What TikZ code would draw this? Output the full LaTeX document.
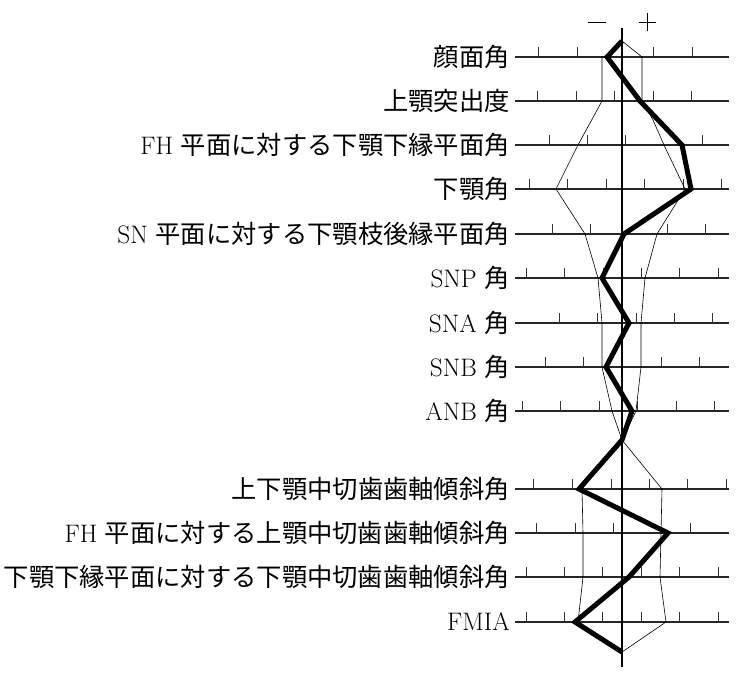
\documentclass[tikz,border=0pt]{standalone}
\usepackage{fontspec}
\newfontfamily\jp{Noto Sans CJK JP}
\begin{document}
\begin{tikzpicture}[x=1pt,y=-1pt,
  grid/.style={line width=1.5pt,black!85},
  tick/.style={line width=0.9pt,black!80},
  thin/.style={line width=0.6pt},
  bold/.style={line width=5pt,line join=miter},
  lab/.style={anchor=east,inner sep=0pt,font=\fontsize{25.3}{28}\selectfont}]
\useasboundingbox (0,0) rectangle (742,680);
\def\rowline#1#2#3{%
  \draw[grid] (515,#1) -- (729,#1);
  \foreach \t in {#2} \draw[tick] (\t,#1-10) -- (\t,#1);
  \node[lab] at (510,#1) {#3};}
\rowline{57}{538,577,653,692}{\jp 顔面角}
\rowline{101}{537,576,614,653,691}{\jp 上顎突出度}
\rowline{145}{549,587,625,702}{FH {\jp 平面に対する下顎下縁平面角}}
\rowline{189}{529,567,606,644,683,721}{\jp 下顎角}
\rowline{234}{552,590,667,705}{SN {\jp 平面に対する下顎枝後縁平面角}}
\rowline{278}{526,564,603,641,679,718}{SNP {\jp 角}}
\rowline{323}{559,597,636,674,712}{SNA {\jp 角}}
\rowline{367}{545,583,661,699}{SNB {\jp 角}}
\rowline{411}{522,560,599,637,676,714}{ANB {\jp 角}}
\rowline{489}{533,572,611,649,687,726}{\jp 上下顎中切歯歯軸傾斜角}
\rowline{533}{536,575,613,690}{FH {\jp 平面に対する上顎中切歯歯軸傾斜角}}
\rowline{577}{526,564,602,641,679,718}{\jp 下顎下縁平面に対する下顎中切歯歯軸傾斜角}
\rowline{622}{526,564,602,641,679,718}{FMIA}
\draw[line width=1.2pt] (622,28) -- (622,667);
\draw[line width=1pt] (588,22) -- (606,22);
\draw[line width=1pt] (639,22) -- (656,22) (647.5,13) -- (647.5,31);
\draw[thin] (622,41) -- (642,57) -- (642,101) -- (653,120) -- (664,145) -- (685,189) -- (657,234) -- (645,278) -- (641,323) -- (641,367) -- (636,411) -- (622,440) -- (662,489) -- (661,533) -- (660,577) -- (666,622) -- (622,652);
\draw[thin] (607,57) -- (602,57) -- (602,101) -- (578,145) -- (556,189) -- (585,234) -- (598,278) -- (602,323) -- (602,367) -- (612,411) -- (622,440) -- (582,489) -- (583,533) -- (583,577) -- (578,622) -- (622,652);
\draw[bold] (622,41) -- (607,57) -- (640,101) -- (682,145) -- (691,189) -- (624,234) -- (602,278) -- (629,323) -- (606,367) -- (632,411) -- (622,440) -- (579,489) -- (668,533) -- (629,577) -- (575,622) -- (622,652);
\end{tikzpicture}
\end{document}
